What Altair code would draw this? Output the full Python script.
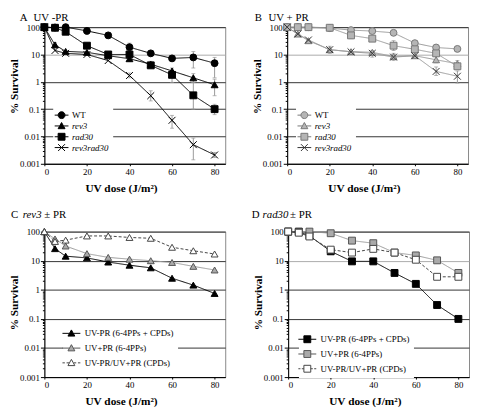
import altair as alt
import pandas as pd

DOSE = [0, 5, 10, 20, 30, 40, 50, 60, 70, 80]

# Panel A: UV -PR
A_NAMES = ["WT", "rev3", "rad30", "rev3rad30"]
A_WT = [100, 97, 100, 73, 50, 18.5, 11, 7.2, 7.8, 4.8]
A_REV3 = [100, 22.5, 13, 12, 9, 7, 4.4, 2.5, 1.4, 0.78]
A_RAD30 = [100, 95, 68, 21, 10, 10, 4.0, 1.8, 0.32, 0.1]
A_REV3RAD30 = [100, 14, 11, 10, 6, 1.7, 0.31, 0.039, 0.005, 0.0021]
A_ERR_SERIES = ["WT", "WT", "WT", "WT", "WT", "WT",
                "rev3", "rev3", "rev3", "rev3", "rev3", "rev3",
                "rad30", "rad30", "rad30",
                "rev3rad30", "rev3rad30", "rev3rad30", "rev3rad30", "rev3rad30"]
A_ERR_DOSE = [20, 40, 50, 60, 70, 80,
              5, 40, 50, 60, 70, 80,
              60, 70, 80,
              40, 50, 60, 70, 80]
A_ERR_LO = [55, 13, 9, 6, 3.2, 1.4,
            18, 5.5, 3.4, 2.0, 0.95, 0.31,
            0.95, 0.1, 0.063,
            1.4, 0.2, 0.02, 0.0014, 0.0017]
A_ERR_HI = [90, 26, 13, 8.5, 12.8, 7.8,
            27, 9, 5.6, 3.2, 2.0, 1.25,
            2.5, 0.95, 0.15,
            2.1, 0.47, 0.059, 0.0087, 0.0026]

# Panel B: UV + PR
B_NAMES = ["WT", "rev3", "rad30", "rev3rad30"]
B_WT = [100, 100, 100, 92, 78, 72, 62, 26, 18, 16]
B_REV3 = [100, 56, 32, 15, 12.7, 12, 8.5, 9, 6.4, 4.6]
B_RAD30 = [100, 100, 100, 95, 50, 38, 21, 15.5, 11, 3.7]
B_REV3RAD30 = [100, 56, 34, 15, 12.5, 11, 8, 9, 2.4, 1.6]
B_ERR_SERIES = ["rev3rad30", "rev3rad30", "rev3rad30", "rev3rad30", "rev3rad30",
                "rad30", "rad30", "rev3", "rev3"]
B_ERR_DOSE = [20, 40, 50, 70, 80, 30, 50, 70, 80]
B_ERR_LO = [11, 8, 6, 1.7, 0.9, 38, 14, 5, 3.5]
B_ERR_HI = [20, 14, 11, 3.5, 2.5, 65, 32, 9, 6]

# Panel C: rev3 +/- PR
C_NAMES = ["UV-PR (6-4PPs + CPDs)", "UV+PR (6-4PPs)", "UV-PR/UV+PR (CPDs)"]
C_DARK = [100, 26, 14.3, 12.5, 9, 7, 5.7, 2.5, 1.45, 0.75]
C_GRAY = [100, 56, 32, 17.5, 13, 11.3, 10, 8.7, 6.4, 4.8]
C_WHITE = [100, 46, 51, 71, 71, 63, 59, 29, 22, 17]

# Panel D: rad30 +/- PR
D_NAMES = ["UV-PR (6-4PPs + CPDs)", "UV+PR (6-4PPs)", "UV-PR/UV+PR (CPDs)"]
D_DARK = [100, 100, 72, 21, 9.5, 9.5, 3.8, 1.6, 0.3, 0.1]
D_GRAY = [100, 95, 100, 88, 49, 40, 19, 15.2, 10.3, 3.8]
D_WHITE = [100, 92, 68, 24, 19, 25.5, 19, 10.8, 2.8, 2.8]

FONT = "Liberation Serif"
YTICKS = sorted(set([round(m * 10.0 ** e, 6) for e in range(-3, 2) for m in range(1, 10)] + [100]))
MAJ_TEST = "indexof([0.001,0.01,0.1,1,10,100], datum.value) >= 0"

X_PATH = "M-1,-1L1,1M-1,1L1,-1"
LEG_CIRCLE = "M-2,0L-1,0M1,0L2,0M1,0A1,1,0,1,1,-1,0A1,1,0,1,1,1,0Z"
LEG_TRI = "M-2,0L-0.6,0M0.6,0L2,0M0,-1L1,0.8L-1,0.8Z"
LEG_SQ = "M-2,0L-1,0M1,0L2,0M-1,-1L1,-1L1,1L-1,1Z"
LEG_X = "M-2,0L2,0M-1,-1L1,1M-1,1L1,-1"
LEG_TRI_L = "M-2.6,0L-0.6,0M0.6,0L2.6,0M0,-1L1,0.8L-1,0.8Z"
LEG_TRI_D = "M-2.6,0L-1.9,0M-1.4,0L-0.7,0M0.7,0L1.4,0M1.9,0L2.6,0M0,-1L1,0.8L-1,0.8Z"
LEG_SQ_L = "M-2.6,0L-1,0M1,0L2.6,0M-1,-1L1,-1L1,1L-1,1Z"
LEG_SQ_D = "M-2.6,0L-2.0,0M-1.6,0L-1,0M1,0L1.6,0M2.0,0L2.6,0M-1,-1L1,-1L1,1L-1,1Z"


def long_df(names, series):
    rows = []
    for n, vals in zip(names, series):
        for d, v in zip(DOSE, vals):
            rows.append({"dose": d, "v": v, "s": n, "L": n})
    return pd.DataFrame(rows)


def panel(names, series, err, shapes, fills, strokes, lcolors, dashes,
          lpaths, lfills, lstrokes, height, titles, grid10, leg_pos,
          row_pad, italic, title_y):
    df = long_df(names, series)
    xs = alt.X("dose:Q", scale=alt.Scale(domain=[0, 85], nice=False),
               axis=alt.Axis(values=[0, 20, 40, 60, 80], title="UV dose (J/m²)",
                             grid=False, tickSize=2, labelPadding=2,
                             titlePadding=6, titleX=78))
    ys = alt.Y("v:Q", scale=alt.Scale(type="log", domain=[0.001, 100], nice=False),
               axis=alt.Axis(values=YTICKS, format="~g",
                             labelExpr=MAJ_TEST + " ? datum.label : ''",
                             gridOpacity={"condition": {"test": MAJ_TEST, "value": 1}, "value": 0},
                             gridColor={"condition": {"test": "datum.value == 10", "value": grid10}, "value": "#333"},
                             tickSize={"condition": {"test": MAJ_TEST, "value": 4}, "value": 2},
                             labelPadding=1, title="% Survival", titlePadding=0, titleY=title_y))
    layers = []
    if err is not None:
        edf = pd.DataFrame({"s": err[0], "dose": err[1], "lo": err[2], "hi": err[3]})
        eb = alt.Chart(edf)
        layers.append(eb.mark_rule(color="#999", strokeWidth=1).encode(
            x="dose:Q", y="lo:Q", y2="hi:Q"))
        layers.append(eb.mark_tick(color="#999", orient="horizontal", size=4, thickness=1).encode(
            x="dose:Q", y="lo:Q"))
        layers.append(eb.mark_tick(color="#999", orient="horizontal", size=4, thickness=1).encode(
            x="dose:Q", y="hi:Q"))
    base = alt.Chart(df)
    line = base.mark_line(strokeWidth=1).encode(
        x=xs, y=ys,
        color=alt.Color("s:N", scale=alt.Scale(domain=names, range=lcolors), legend=None),
        strokeDash=alt.StrokeDash("s:N", scale=alt.Scale(domain=names, range=dashes), legend=None),
        order="dose:Q")
    pts = base.mark_point(filled=False, opacity=1, size=49, strokeWidth=1).encode(
        x="dose:Q", y="v:Q",
        shape=alt.Shape("s:N", scale=alt.Scale(domain=names, range=shapes), legend=None),
        fill=alt.Fill("s:N", scale=alt.Scale(domain=names, range=fills), legend=None),
        stroke=alt.Stroke("s:N", scale=alt.Scale(domain=names, range=strokes), legend=None))
    leg = alt.Legend(title=None, orient="none", legendX=leg_pos[0], legendY=leg_pos[1],
                     padding=4, fillColor="white", labelFont=FONT, labelFontSize=9,
                     labelColor="black", symbolSize=49, symbolStrokeWidth=1,
                     symbolOpacity=1, rowPadding=row_pad, labelOffset=leg_pos[2],
                     labelFontStyle={"expr": italic})
    legl = base.transform_filter("datum.dose < 0").mark_point(opacity=1, size=49).encode(
        x="dose:Q", y="v:Q",
        shape=alt.Shape("L:N", scale=alt.Scale(domain=names, range=lpaths), legend=leg),
        fill=alt.Fill("L:N", scale=alt.Scale(domain=names, range=lfills), legend=leg),
        stroke=alt.Stroke("L:N", scale=alt.Scale(domain=names, range=lstrokes), legend=leg))
    layers += [line, pts, legl]
    tdf = pd.DataFrame({"k": [0]})
    for txt, dx, dy, style in titles:
        layers.append(alt.Chart(tdf).mark_text(
            text=txt, font=FONT, fontSize=11, fontStyle=style, align="left",
            baseline="middle", color="black").encode(x=alt.value(dx), y=alt.value(dy)))
    return alt.layer(*layers).resolve_scale(
        shape="independent", fill="independent", stroke="independent").properties(
        width=184, height=height)


A = panel(A_NAMES, [A_WT, A_REV3, A_RAD30, A_REV3RAD30],
          (A_ERR_SERIES, A_ERR_DOSE, A_ERR_LO, A_ERR_HI),
          ["circle", "triangle-up", "square", X_PATH],
          ["black", "black", "black", "transparent"],
          ["black", "black", "black", "black"],
          ["black", "black", "black", "black"],
          [[1, 0], [1, 0], [1, 0], [1, 0]],
          [LEG_CIRCLE, LEG_TRI, LEG_SQ, LEG_X],
          ["black", "black", "black", "transparent"],
          ["black", "black", "black", "black"],
          139, [("A", -25, -9, "normal"), ("UV -PR", -11, -9, "normal")],
          "#aaa", (9, 81, 6), 0, "datum.label == 'WT' ? 'normal' : 'italic'", 60)

B = panel(B_NAMES, [B_WT, B_REV3, B_RAD30, B_REV3RAD30],
          (B_ERR_SERIES, B_ERR_DOSE, B_ERR_LO, B_ERR_HI),
          ["circle", "triangle-up", "square", X_PATH],
          ["#b5b5b5", "#b5b5b5", "#b5b5b5", "transparent"],
          ["#777", "#777", "#777", "#333"],
          ["#999", "#999", "#999", "#999"],
          [[1, 0], [1, 0], [1, 0], [1, 0]],
          [LEG_CIRCLE, LEG_TRI, LEG_SQ, LEG_X],
          ["#b5b5b5", "#b5b5b5", "#b5b5b5", "transparent"],
          ["#777", "#777", "#777", "#333"],
          139, [("B", -33, -9, "normal"), ("UV + PR", -19, -9, "normal")],
          "#aaa", (9, 81, 6), 0, "datum.label == 'WT' ? 'normal' : 'italic'", 60)

C = panel(C_NAMES, [C_DARK, C_GRAY, C_WHITE], None,
          ["triangle-up", "triangle-up", "triangle-up"],
          ["black", "#aaa", "white"],
          ["black", "#555", "#444"],
          ["black", "#999", "#444"],
          [[1, 0], [1, 0], [3, 2]],
          [LEG_TRI_L, LEG_TRI_L, LEG_TRI_D],
          ["black", "#aaa", "white"],
          ["black", "#555", "#444"],
          148, [("C", -34, -17, "normal"), ("rev3", -22, -17, "italic"), ("± PR", 0, -17, "normal")],
          "#333", (19, 95, 9), 4, "'normal'", 72)

D = panel(D_NAMES, [D_DARK, D_GRAY, D_WHITE], None,
          ["square", "square", "square"],
          ["black", "#aaa", "white"],
          ["black", "#555", "#444"],
          ["black", "#999", "#444"],
          [[1, 0], [1, 0], [3, 2]],
          [LEG_SQ_L, LEG_SQ_L, LEG_SQ_D],
          ["black", "#aaa", "white"],
          ["black", "#555", "#444"],
          148, [("D", -37, -17, "normal"), ("rad30", -26, -17, "italic"), ("± PR", 2, -17, "normal")],
          "#aaa", (11, 101, 9), 4, "'normal'", 72)

RES = dict(shape="independent", fill="independent", stroke="independent",
           color="independent", strokeDash="independent")
top = alt.hconcat(A, B, spacing=25).resolve_scale(**RES)
bottom = alt.hconcat(C, D, spacing=25).resolve_scale(**RES)
chart = alt.vconcat(top, bottom, spacing=14).resolve_scale(**RES).properties(
    padding=0, background="white"
).configure_view(stroke="#888", strokeWidth=1).configure_axis(
    domainColor="black", labelFont=FONT, labelFontSize=9, labelColor="black",
    titleFont=FONT, titleFontSize=11.5, titleFontWeight="bold", titleColor="black",
    tickColor="black"
)

chart.save("out.html", embed_options={"renderer": "svg", "actions": False})
